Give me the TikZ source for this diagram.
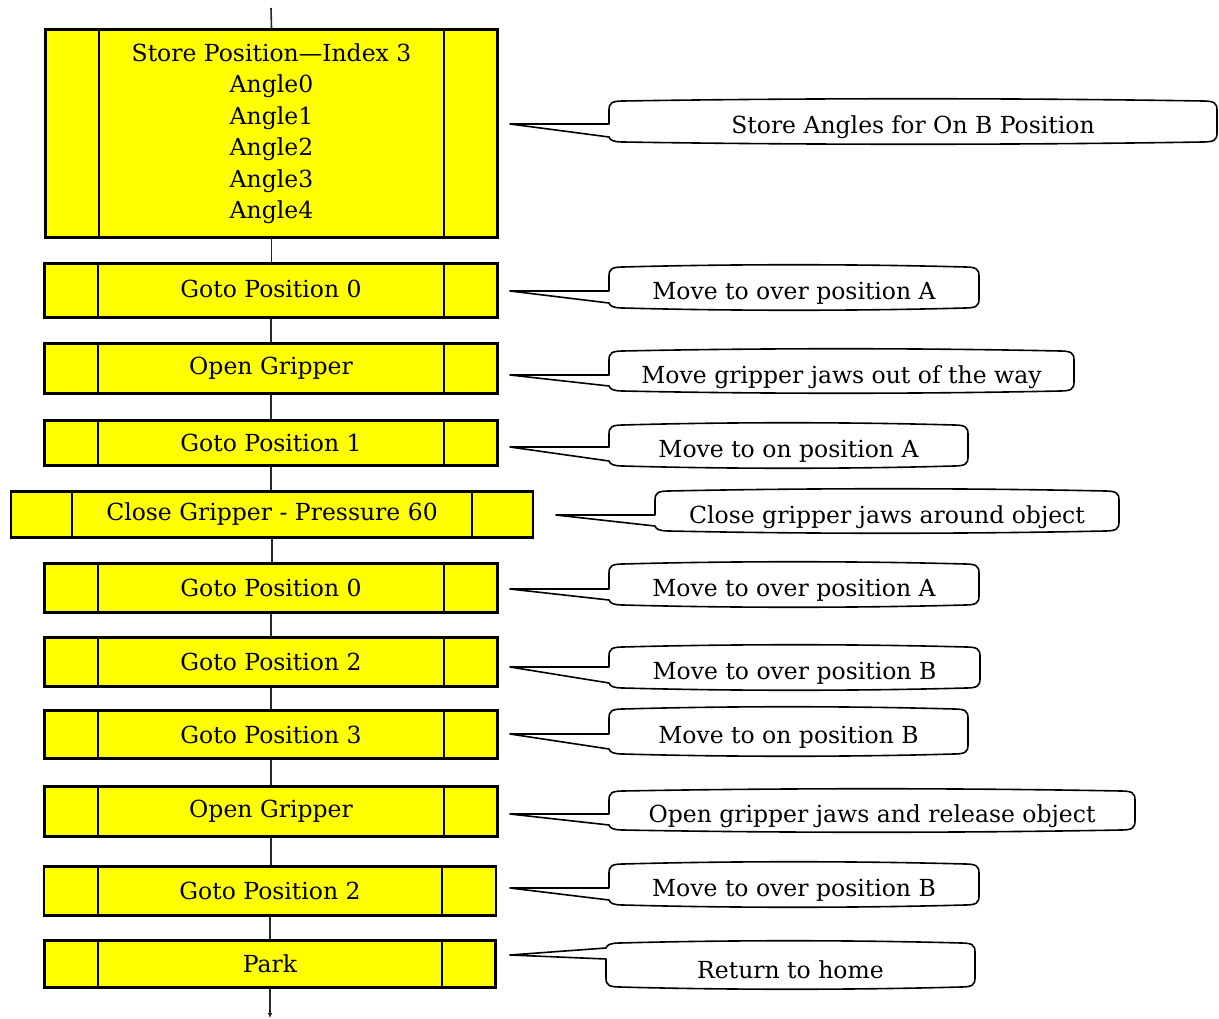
\documentclass[tikz,border=0pt]{standalone}
\usepackage{fontspec}
\setmainfont{DejaVu Serif}
\usetikzlibrary{arrows.meta}
\definecolor{boxyellow}{RGB}{255,255,0}
\definecolor{spinegray}{RGB}{40,40,40}
\tikzset{
  pbox/.style={draw=black, fill=boxyellow, line width=2.4pt, rectangle, inner sep=0pt,
    align=center, font=\fontsize{23.5}{31.5}\selectfont},
  divider/.style={draw=black, line width=1.7pt},
  spine/.style={draw=spinegray, line width=1.6pt},
  cshape/.style={draw=black, fill=white, line width=1.6pt, line join=round},
  ctext/.style={inner sep=0pt, font=\fontsize{23.5}{28}\selectfont},
}
% name, cx, cy, width, height, inset, text
\newcommand{\procbox}[7]{%
  \node[pbox, minimum width=#4pt, minimum height=#5pt] (#1) at (#2,#3) {#7};
  \draw[divider] ([xshift=#6pt]#1.north west) -- ([xshift=#6pt]#1.south west);
  \draw[divider] ([xshift=-#6pt]#1.north east) -- ([xshift=-#6pt]#1.south east);
}
% name, xL, yT, xR, yB, tipx, tipy, text  (pointer leaves along the lower part)
\newcommand{\calloutdown}[8]{%
  \coordinate (#1tip) at (#6,#7);
  \draw[cshape] (#1tip) -- (#2,#7) -- (#2,#3+9)
    .. controls (#2,#3+2) and (#2+3,#3) .. (#2+14,#3)
    .. controls ({#2+(#4-#2)/3},#3-3) and ({#4-(#4-#2)/3},#3-3) .. (#4-14,#3)
    .. controls (#4-3,#3) and (#4,#3+2) .. (#4,#3+9) -- (#4,#5-9)
    .. controls (#4,#5-2) and (#4-3,#5) .. (#4-14,#5)
    .. controls ({#4-(#4-#2)/3},#5+3) and ({#2+(#4-#2)/3},#5+3) .. (#2+14,#5)
    .. controls (#2+4,#5) and (#2+1,#5-2) .. (#2,#5-5) -- cycle;
  \node[ctext] (#1) at ({(#2+#4)/2},{(#3+#5)/2+6}) {#8};
}
% name, xL, yT, xR, yB, tipx, tipy, text  (pointer leaves along the upper part)
\newcommand{\calloutupper}[8]{%
  \coordinate (#1tip) at (#6,#7);
  \draw[cshape] (#1tip) -- (#2,#7+4) -- (#2,#5-9)
    .. controls (#2,#5-2) and (#2+3,#5) .. (#2+14,#5)
    .. controls ({#2+(#4-#2)/3},#5+3) and ({#4-(#4-#2)/3},#5+3) .. (#4-14,#5)
    .. controls (#4-3,#5) and (#4,#5-2) .. (#4,#5-9) -- (#4,#3+9)
    .. controls (#4,#3+2) and (#4-3,#3) .. (#4-14,#3)
    .. controls ({#4-(#4-#2)/3},#3-3) and ({#2+(#4-#2)/3},#3-3) .. (#2+14,#3)
    .. controls (#2+4,#3) and (#2+1,#3+2) .. (#2,#3+5) -- cycle;
  \node[ctext] (#1) at ({(#2+#4)/2},{(#3+#5)/2+5}) {#8};
}
\begin{document}
\begin{tikzpicture}[x=1pt, y=-1pt]
\useasboundingbox (0,0) rectangle (1219,1019);

% process boxes
\procbox{b1}{271.5}{133.5}{452}{208}{55}{Store Position—Index 3\\Angle0\\Angle1\\Angle2\\Angle3\\Angle4}
\procbox{b2}{271}{290.5}{453}{54}{55}{\raisebox{2.5pt}{Goto Position 0}}
\procbox{b3}{271}{368.5}{453}{50}{55}{Open Gripper}
\procbox{b4}{271}{443}{453}{45}{55}{Goto Position 1}
\procbox{b5}{272}{514.5}{522}{46}{62}{\raisebox{-3pt}{Close Gripper - Pressure 60}}
\procbox{b6}{271}{588}{453}{49}{55}{Goto Position 0}
\procbox{b7}{271}{662}{453}{49}{55}{Goto Position 2}
\procbox{b8}{271}{734.5}{453}{48}{55}{Goto Position 3}
\procbox{b9}{271}{811.5}{453}{50}{55}{Open Gripper}
\procbox{b10}{270}{891}{452}{49}{55}{Goto Position 2}
\procbox{b11}{270}{964}{451}{47}{55}{Park}

% spine connectors
\coordinate (top) at (271,8);
\coordinate (bot) at (270,1018);
\draw[spine] (top) -- (b1.north);
\foreach \a/\b in {b1/b2,b2/b3,b3/b4,b4/b5,b5/b6,b6/b7,b7/b8,b8/b9,b9/b10,b10/b11}{
  \draw[spine] (\a.south) -- (\a.south |- \b.north);
}
\draw[spine, -{Latex[length=5pt,width=5pt]}] (b11.south) -- (bot);

% callouts
\calloutdown{c1}{609}{101}{1217}{142}{510}{124}{Store Angles for On B Position}
\calloutdown{c2}{609}{267}{979}{308}{510}{291}{Move to over position A}
\calloutdown{c3}{609}{351}{1074}{391}{510}{375}{Move gripper jaws out of the way}
\calloutdown{c4}{609}{425}{968}{466}{510}{447}{Move to on position A}
\calloutdown{c5}{655}{491}{1119}{531}{556}{515}{Close gripper jaws around object}
\calloutdown{c6}{609}{564}{979}{605}{510}{589}{Move to over position A}
\calloutdown{c7}{609}{647}{980}{688}{510}{667}{Move to over position B}
\calloutdown{c8}{609}{709}{968}{754}{510}{734}{Move to on position B}
\calloutdown{c9}{609}{791}{1135}{830}{510}{814}{Open gripper jaws and release object}
\calloutdown{c10}{609}{864}{979}{905}{510}{888}{Move to over position B}
\calloutupper{c11}{606}{943}{975}{987}{510}{955}{Return to home}
\end{tikzpicture}
\end{document}
